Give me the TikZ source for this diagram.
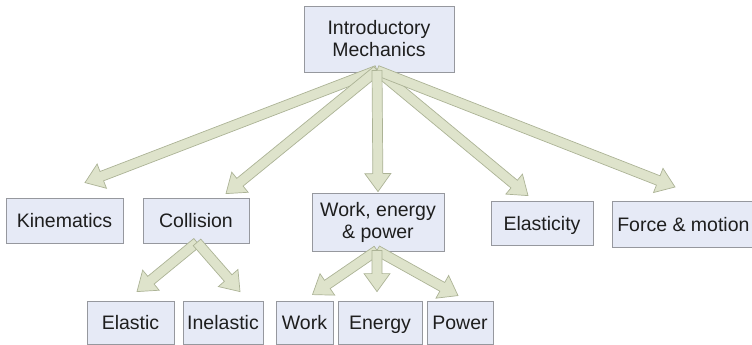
\documentclass[tikz,border=0pt]{standalone}
\usepackage{fontspec}
\setmainfont{Liberation Sans}
\usetikzlibrary{calc, positioning}
\definecolor{boxfill}{RGB}{230,234,246}
\definecolor{boxline}{RGB}{150,152,158}
\definecolor{arrfill}{RGB}{222,227,203}
\definecolor{arredge}{RGB}{172,179,150}
\definecolor{txt}{RGB}{30,30,30}

% fat block arrow between two points
\newcommand{\fatarrow}[2]{%
  \coordinate (fa-s) at (#1);
  \coordinate (fa-e) at (#2);
  \coordinate (fa-h) at ($(fa-e)!18pt!(fa-s)$);
  \filldraw[fat] ($(fa-s)!5pt!90:(fa-e)$) -- ($(fa-h)!5pt!-90:(fa-s)$)
    -- ($(fa-h)!13pt!-90:(fa-s)$) -- (fa-e) -- ($(fa-h)!13pt!90:(fa-s)$)
    -- ($(fa-h)!5pt!90:(fa-s)$) -- ($(fa-s)!5pt!-90:(fa-e)$) -- cycle;
}

\begin{document}
\begin{tikzpicture}[x=1pt, y=-1pt,
    topic/.style={draw=boxline, fill=boxfill, text=txt, line width=0.8pt,
                  inner sep=0pt, align=center, font=\fontsize{19.5}{22}\selectfont},
    one/.style={topic, text height=14pt, text depth=0pt},
    fat/.style={fill=arrfill, draw=arredge, line width=0.7pt, line join=miter}]
    \useasboundingbox (0,0) rectangle (752,345);

    % Top
    \node[topic, minimum width=150pt, minimum height=66pt] (root) at (379,39) {Introductory\\Mechanics};

    % Middle row
    \node[one, minimum width=117pt, minimum height=45pt] (kin) at (64.5,220.5) {Kinematics};
    \node[one, minimum width=106pt, minimum height=45pt] (col) at (196,220.5) {Collision};
    \node[topic, minimum width=132pt, minimum height=58pt] (wep) at (378,222) {Work, energy\\\& power};
    \node[one, minimum width=102pt, minimum height=44pt] (ela) at (542,223) {Elasticity};
    \node[one, minimum width=142pt, minimum height=46pt, anchor=north west] (frc) at (612,201) {Force \& motion};

    % Bottom row
    \node[one, minimum width=87pt, minimum height=43pt] (elc) at (130.5,322.5) {Elastic};
    \node[one, minimum width=80pt, minimum height=43pt] (inel) at (223,322.5) {Inelastic};
    \node[one, minimum width=57pt, minimum height=43pt] (work) at (304.5,322.5) {Work};
    \node[one, minimum width=84pt, minimum height=43pt] (enr) at (380,322.5) {Energy};
    \node[one, minimum width=66pt, minimum height=43pt] (pow) at (460,322.5) {Power};

    % Arrows from the top
    \fatarrow{[xshift=-2pt,yshift=2pt]root.south}{[xshift=20.5pt,yshift=15pt]kin.north}
    \fatarrow{[xshift=-2pt,yshift=2pt]root.south}{[xshift=30pt,yshift=4pt]col.north}
    \fatarrow{[xshift=-2pt,yshift=2pt]root.south}{[xshift=-14pt,yshift=5pt]ela.north}
    \fatarrow{[xshift=-2pt,yshift=2pt]root.south}{[xshift=63pt,yshift=14pt]frc.north west}
    \fatarrow{[xshift=-2pt,yshift=2pt]root.south}{[yshift=1pt]wep.north}

    % Collision branches
    \fatarrow{[xshift=1pt,yshift=1pt]col.south}{[xshift=6.5pt,yshift=9pt]elc.north}
    \fatarrow{[xshift=1pt,yshift=1pt]col.south}{[xshift=17pt,yshift=9pt]inel.north}

    % Work, energy & power branches
    \fatarrow{[xshift=-1pt,yshift=1pt]wep.south}{[xshift=8pt,yshift=6pt]work.north}
    \fatarrow{[xshift=-1pt,yshift=1pt]wep.south}{[xshift=-2pt,yshift=5pt]pow.north}
    \fatarrow{[xshift=-1pt,yshift=1pt]wep.south}{[xshift=-3pt,yshift=9pt]enr.north}
\end{tikzpicture}
\end{document}
